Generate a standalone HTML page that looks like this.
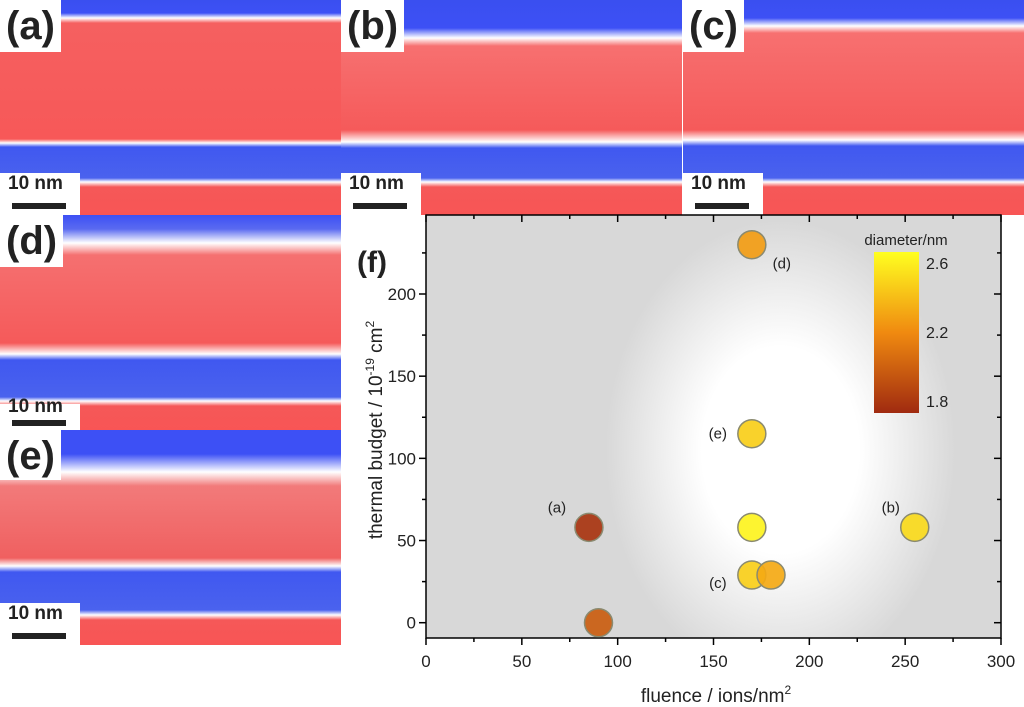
<!DOCTYPE html>
<html><head><meta charset="utf-8"><style>
body{margin:0;width:1024px;height:707px;background:#fff;position:relative;overflow:hidden;font-family:"Liberation Sans",sans-serif}
.p{position:absolute;width:341px;height:215px;overflow:hidden}
.lab{position:absolute;left:0;top:0;background:#fff;font-weight:bold;font-size:40px;color:#222;padding:0 6px 0 6px;line-height:52px;height:52px}
.sb{position:absolute;left:0;bottom:0;width:80px;height:42px;background:#fff}
.sb span{position:absolute;left:8px;top:0;font-size:19px;font-weight:bold;color:#222}
.sb i{position:absolute;left:12px;top:30px;width:54px;height:6px;background:#222}
</style></head><body>
<div class="p" style="left:0;top:0;background:linear-gradient(#3a4ff0 0,#3d50f5 13px,#fff 18px,#f56060 23px,#f75858 139px,#fff 143px,#4058f0 147px,#4a62ee 178px,#fff 182px,#f55858 187px,#f85555 215px)">
<div class="lab">(a)</div>
<div class="sb"><span>10 nm</span><i></i></div></div>
<div class="p" style="left:341px;top:0;background:linear-gradient(#3a4ff0 0,#3d50f5 28px,#fff 38px,#f77070 46px,#f55a5a 130px,#fff 142px,#4058f0 148px,#4a62ee 178px,#fff 182px,#f55858 187px,#f85555 215px)">
<div class="lab">(b)</div>
<div class="sb"><span>10 nm</span><i></i></div></div>
<div class="p" style="left:683px;top:0;background:linear-gradient(#3a4ff0 0,#3d50f5 18px,#fff 26px,#f77070 33px,#f55a5a 130px,#fff 140px,#4058f0 146px,#4a62ee 178px,#fff 182px,#f55858 187px,#f85555 215px)">
<div class="lab">(c)</div>
<div class="sb"><span>10 nm</span><i></i></div></div>
<div class="p" style="left:0;top:215px;background:linear-gradient(#3d50f5 0,#5a6af0 14px,#fff 28px,#f57070 40px,#f55a5a 128px,#fff 139px,#4058f0 145px,#4a62ee 182px,#fff 186px,#f55858 191px,#f85555 215px)">
<div class="lab">(d)</div>
<div class="sb" style="height:26px"><span style="top:-8px">10 nm</span><i style="top:16px"></i></div></div>
<div class="p" style="left:0;top:430px;background:linear-gradient(#3d50f5 0,#3d50f5 24px,#fff 42px,#f27a7a 56px,#f06060 128px,#fff 136px,#4058f0 142px,#4a62ee 180px,#fff 185px,#f55858 190px,#f85555 215px)">
<div class="lab" style="height:50px">(e)</div>
<div class="sb"><span>10 nm</span><i></i></div></div>
<svg id="chart" width="1024" height="707" style="position:absolute;left:0;top:0">
<defs>
<radialGradient id="glow" cx="0.5" cy="0.5" r="0.5"><stop offset="0" stop-color="#fff"/><stop offset="0.45" stop-color="#fff"/><stop offset="1" stop-color="#d8d8d8"/></radialGradient>
<linearGradient id="cb" x1="0" y1="1" x2="0" y2="0"><stop offset="0" stop-color="#a02a10"/><stop offset="0.5" stop-color="#f08a10"/><stop offset="1" stop-color="#ffff20"/></linearGradient>
<clipPath id="clip"><rect x="426" y="215" width="575" height="423"/></clipPath>
</defs>
</svg>
<script>
const xTicks=[0,50,100,150,200,250,300];
const yTicks=[0,50,100,150,200];
const fluence=[85,90,170,170,170,255,170,180];
const budget=[58,0,230,115,58,58,29,29];
const diameter=[1.8,2.0,2.3,2.5,2.65,2.55,2.5,2.35];
const ptLabels=["(a)","","(d)","(e)","","(b)","(c)",""];
const L=426,R=1001,T=215,B=638;
const X=v=>L+(v/300)*(R-L);
const Y=v=>622.7-(v/200)*(622.7-294);
const svg=document.getElementById('chart');
const NS='http://www.w3.org/2000/svg';
function mk(t,a,txt){const e=document.createElementNS(NS,t);for(const k in a)e.setAttribute(k,a[k]);if(txt!=null)e.textContent=txt;svg.appendChild(e);return e;}
let e;
e=mk('rect',{x:L,y:T,width:R-L,height:B-T,fill:'#d8d8d8'});


e=mk('ellipse',{cx:X(185),cy:Y(105),rx:175,ry:230,fill:'url(#glow)','clip-path':'url(#clip)'});


e=mk('rect',{x:L,y:T,width:R-L,height:B-T,fill:'none',stroke:'#000','stroke-width':1.5});


for(let v=0;v<=300;v+=25){const maj=v%50===0,len=maj?7:4;
 mk('line',{x1:X(v),x2:X(v),y1:B,y2:B+len,stroke:'#000','stroke-width':1.5});
 mk('line',{x1:X(v),x2:X(v),y1:T,y2:T+len,stroke:'#000','stroke-width':1.5});}
for(let v=0;v<=225;v+=25){const maj=v%50===0,len=maj?7:4;
 mk('line',{x1:L,x2:L-len,y1:Y(v),y2:Y(v),stroke:'#000','stroke-width':1.5});
 mk('line',{x1:R,x2:R-len,y1:Y(v),y2:Y(v),stroke:'#000','stroke-width':1.5});}
xTicks.forEach(v=>{e=mk('text',{x:X(v),y:667,'text-anchor':'middle','font-size':17,fill:'#222'},v);

});
yTicks.forEach(v=>{e=mk('text',{x:L-10,y:Y(v)+6,'text-anchor':'end','font-size':17,fill:'#222'},v);

});
e=mk('text',{x:716,y:702,'text-anchor':'middle','font-size':19,fill:'#222'});
e.innerHTML='fluence / ions/nm<tspan dy="-8" font-size="12">2</tspan>';


e=mk('text',{x:0,y:0,'text-anchor':'middle','font-size':19,fill:'#222',transform:'translate(382,430) rotate(-90)'});
e.innerHTML='thermal budget / 10<tspan dy="-8" font-size="12">-19</tspan><tspan dy="8"> cm</tspan><tspan dy="-8" font-size="12">2</tspan>';


e=mk('text',{x:357,y:272,'font-size':30,'font-weight':'bold',fill:'#222'},'(f)');


function col(d){const t=Math.max(0,Math.min(1,(d-1.75)/(2.7-1.75)));
 const stops=[[160,42,16],[240,138,16],[255,255,32]];
 const s=t<0.5?0:1,f=t<0.5?t*2:(t-0.5)*2;
 const c=stops[s].map((a,i)=>Math.round(a+(stops[s+1][i]-a)*f));return `rgb(${c})`;}
const cdx=[-32,0,30,-34,0,-24,-34,0],cdy=[-20,0,19,0,0,-20,8,0];
fluence.forEach((f,i)=>{
 e=mk('circle',{cx:X(f),cy:Y(budget[i]),r:14,fill:col(diameter[i]),'fill-opacity':0.92,stroke:'#8a8a70','stroke-width':1.5});
 
 
 if(ptLabels[i]){e=mk('text',{x:X(f)+cdx[i],y:Y(budget[i])+cdy[i]+5,'text-anchor':'middle','font-size':15,fill:'#222'},ptLabels[i]);
 
 }
});
e=mk('rect',{x:874,y:252,width:45,height:161,fill:'url(#cb)'});


e=mk('text',{x:906,y:245,'text-anchor':'middle','font-size':15,fill:'#222'},'diameter/nm');


const cbTicks=["2.6","2.2","1.8"],cbY=[269,338,407];
cbTicks.forEach((t,i)=>{e=mk('text',{x:926,y:cbY[i],'font-size':16,fill:'#222'},t);

});
</script>
</body></html>
